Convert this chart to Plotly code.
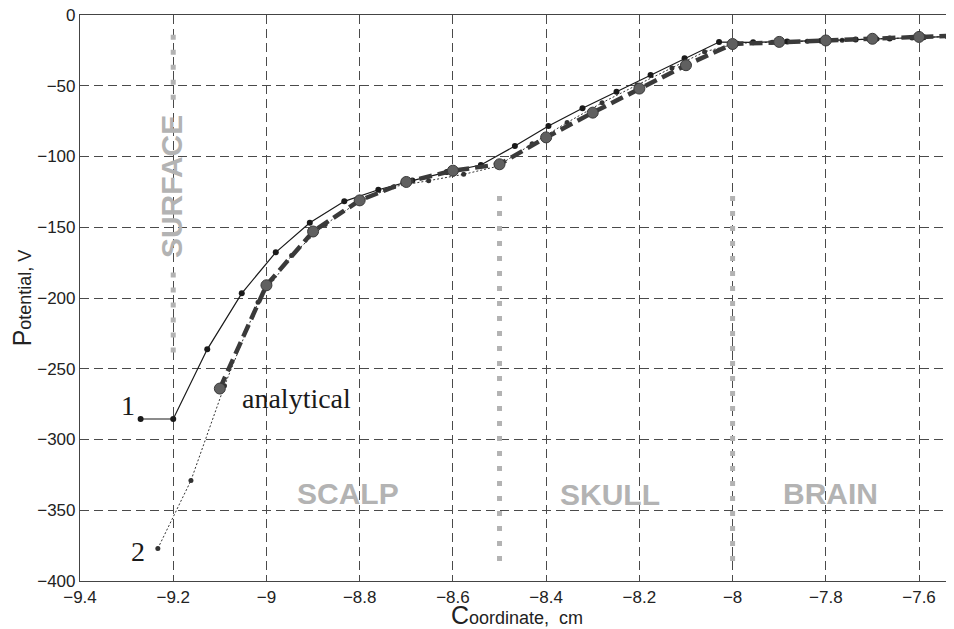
import plotly.graph_objects as go

# ---- data ----
s1_x = [-9.27, -9.2, -9.127, -9.053, -8.98, -8.907, -8.833, -8.76, -8.687, -8.613,
        -8.54, -8.467, -8.395, -8.322, -8.249, -8.176, -8.103, -8.029,
        -7.956, -7.883, -7.81, -7.736, -7.663, -7.59, -7.516]
s1_y = [-285.5, -285.5, -236.3, -196.7, -167.7, -146.8, -131.7, -123.5, -117.0, -111.0,
        -106.0, -92.6, -78.4, -65.9, -54.2, -42.4, -30.6, -19.1,
        -19.3, -18.8, -18.2, -17.4, -16.6, -15.8, -15.0]

s2_x = [-9.233, -9.162, -9.09, -9.018, -8.946, -8.874, -8.802, -8.727, -8.652, -8.577,
        -8.505, -8.43, -8.355, -8.28, -8.205, -8.13, -8.06, -7.99,
        -7.915, -7.84, -7.765, -7.69, -7.615, -7.54]
s2_y = [-377.0, -329.0, -262.0, -203.0, -170.0, -148.0, -132.0, -121.3, -117.1, -112.6,
        -107.0, -91.0, -76.0, -62.0, -49.5, -37.5, -26.0, -20.0,
        -19.3, -18.6, -17.8, -17.0, -16.2, -15.3]

an_x = [-9.1, -9.0, -8.9, -8.8, -8.7, -8.6, -8.5, -8.4, -8.3, -8.2, -8.1, -8.0,
        -7.9, -7.8, -7.7, -7.6, -7.5]
an_y = [-264.0, -191.0, -153.0, -131.0, -118.0, -110.0, -105.5, -86.5, -69.0, -52.0,
        -35.5, -20.5, -19.0, -18.0, -16.8, -15.5, -14.5]

x_ticks = [-9.4, -9.2, -9.0, -8.8, -8.6, -8.4, -8.2, -8.0, -7.8, -7.6]
y_ticks = [-400, -350, -300, -250, -200, -150, -100, -50, 0]

region_labels = ["SCALP", "SKULL", "BRAIN"]
region_x = [-8.825, -8.264, -7.79]
region_y = [-338, -339, -338]

boundary_x = [-8.5, -8.0]

fig = go.Figure()

fig.add_trace(go.Scatter(
    x=s2_x, y=s2_y, mode="lines+markers",
    line=dict(color="#333333", width=1, dash="2px,2px"),
    marker=dict(size=5, color="#333333"), showlegend=False))

fig.add_trace(go.Scatter(
    x=s1_x, y=s1_y, mode="lines+markers",
    line=dict(color="#1a1a1a", width=1.2),
    marker=dict(size=6, color="#1a1a1a"), showlegend=False))

fig.add_trace(go.Scatter(
    x=an_x, y=an_y, mode="lines+markers",
    line=dict(color="#3a3a3a", width=4.5, dash="13px,6px"),
    marker=dict(size=11, color="#606060", line=dict(color="#3a3a3a", width=1)),
    showlegend=False))

gray = "#b3b3b3"
dotdash = "5px,10px"

# SURFACE boundary (two dotted segments around the label)
fig.add_shape(type="line", x0=-9.2, x1=-9.2, y0=-14, y1=-62,
              line=dict(color=gray, width=5, dash=dotdash), layer="above")
fig.add_shape(type="line", x0=-9.2, x1=-9.2, y0=-182, y1=-240,
              line=dict(color=gray, width=5, dash=dotdash), layer="above")
for bx in boundary_x:
    fig.add_shape(type="line", x0=bx, x1=bx, y0=-128, y1=-390,
                  line=dict(color=gray, width=5, dash=dotdash), layer="above")

fig.add_annotation(x=-9.205, y=-121, text="<b>SURFACE</b>", textangle=-90,
                   showarrow=False, font=dict(family="Liberation Sans", size=30, color=gray))

for t, xx, yy in zip(region_labels, region_x, region_y):
    fig.add_annotation(x=xx, y=yy, text="<b>" + t + "</b>", showarrow=False,
                       font=dict(family="Liberation Sans", size=30, color=gray))

serif = dict(family="Liberation Serif", size=28, color="#1a1a1a")
fig.add_annotation(x=-9.297, y=-276, text="1", showarrow=False, font=serif)
fig.add_annotation(x=-9.275, y=-379, text="2", showarrow=False, font=serif)
fig.add_annotation(x=-8.935, y=-271, text="analytical", showarrow=False, font=serif)

# page body has an 8px margin: figure spans 8..954 x 8..629
fig.update_layout(
    width=946, height=621,
    margin=dict(l=72, r=0, t=7, b=48),
    plot_bgcolor="white", paper_bgcolor="white",
    font=dict(family="Liberation Sans", size=17, color="#222222"),
)
fig.update_xaxes(
    range=[-9.4, -7.525], tickvals=x_ticks, ticktext=[("%g" % v).replace("-", "\u2212") for v in x_ticks],
    showgrid=True, gridcolor="#4a4a4a", gridwidth=1, griddash="9px,5px",
    showline=True, linecolor="#444444", linewidth=1.2, mirror=True,
    zeroline=False, ticks="", automargin=False, ticklabeloverflow="allow",
    title=dict(text="<span style='font-size:25px'>C</span>oordinate,  cm",
               font=dict(size=18), standoff=4),
)
fig.update_yaxes(
    range=[-400, 0], tickvals=y_ticks, ticktext=[("%g" % v).replace("-", "\u2212") for v in y_ticks],
    showgrid=True, gridcolor="#4a4a4a", gridwidth=1, griddash="9px,5px",
    showline=True, linecolor="#444444", linewidth=1.2, mirror=False,
    zeroline=False, ticks="", automargin=False, ticklabeloverflow="allow",
    title=dict(text="<span style='font-size:25px'>P</span>otential, V",
               font=dict(size=18), standoff=6),
)

fig.write_html("out.html")
